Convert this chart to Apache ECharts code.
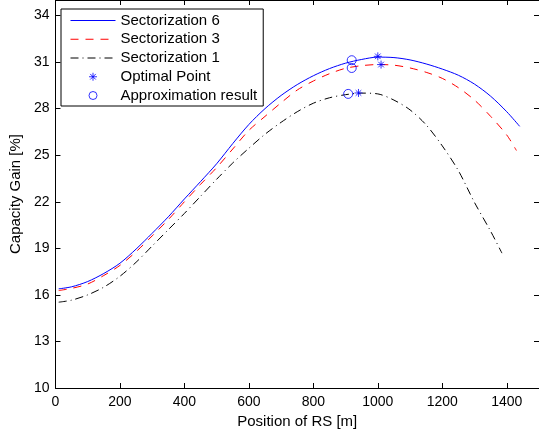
<!DOCTYPE html>
<html>
<head>
<meta charset="utf-8">
<script src="https://cdn.jsdelivr.net/npm/echarts@6/dist/echarts.min.js"></script>
<style>
html,body{margin:0;padding:0;background:#fff;}
#chart{width:539px;height:435px;}
</style>
</head>
<body>
<div id="chart"></div>
<script>
// Sectorization 6 (blue solid)
var s6X = [10,50,100,150,200,250,300,350,400,450,500,550,600,650,700,750,800,850,900,950,1000,1050,1100,1150,1200,1250,1300,1350,1400,1440];
var s6Y = [16.39,16.52,16.86,17.38,18.04,18.95,19.97,21.03,22.18,23.3,24.45,25.75,26.98,28.0,28.85,29.55,30.12,30.58,30.93,31.17,31.32,31.29,31.14,30.88,30.55,30.15,29.58,28.8,27.8,26.86];
// Sectorization 3 (red dashed)
var s3X = [10,50,100,150,200,250,300,350,400,450,500,550,600,650,700,750,800,850,900,950,1000,1050,1100,1150,1200,1250,1300,1350,1400,1430];
var s3Y = [16.28,16.42,16.7,17.25,17.9,18.78,19.8,20.85,22.0,23.12,24.2,25.4,26.6,27.5,28.38,29.2,29.78,30.25,30.6,30.77,30.84,30.8,30.62,30.34,29.95,29.35,28.55,27.5,26.3,25.3];
// Sectorization 1 (black dash-dot)
var s1X = [10,50,100,150,200,250,300,350,400,450,500,550,600,650,700,750,800,850,900,950,1000,1050,1100,1150,1200,1250,1300,1350,1385];
var s1Y = [15.53,15.66,16.0,16.5,17.2,18.1,19.15,20.2,21.25,22.35,23.45,24.5,25.45,26.35,27.12,27.8,28.35,28.7,28.9,29.0,28.95,28.55,27.92,26.95,25.6,24.0,21.95,20.1,18.69];
// Optimal points
var optX = [1000,1010,940];
var optY = [31.37,30.84,29.01];
// Approximation results
var apxX = [919,919,908];
var apxY = [31.12,30.62,28.95];
// Axis ticks
var xTicks = {min:0, max:1500, interval:200};
var yTicks = {min:10, max:35, interval:3};

function pairs(xs, ys){ return xs.map(function(x,i){ return [x, ys[i]]; }); }

var FONT = 'Liberation Sans, Arial, sans-serif';
var asterisk = 'path://M4,0L4,8M0,4L8,4M1.2,1.2L6.8,6.8M6.8,1.2L1.2,6.8';
var hiddenSym = {color:'rgba(0,0,0,0)', borderWidth:0, opacity:0};

var chart = echarts.init(document.getElementById('chart'), null, {renderer:'canvas'});
var axisCommon = {
  axisLine:{show:true, onZero:false, lineStyle:{color:'#000', width:1}},
  axisTick:{show:true, inside:true, length:5, lineStyle:{color:'#000', width:1}},
  splitLine:{show:false}
};
chart.setOption({
  animation:false,
  backgroundColor:'#fff',
  textStyle:{fontFamily:FONT},
  grid:{left:51, right:-4, top:0, bottom:47, containLabel:false},
  legend:{
    orient:'vertical', left:61, top:9,
    padding:[4,6,3,9],
    itemWidth:45, itemHeight:8, itemGap:3.75,
    borderColor:'#000', borderWidth:1, backgroundColor:'#fff',
    textStyle:{fontFamily:FONT, fontSize:15, color:'#000'},
    itemStyle:{borderWidth:1},
    lineStyle:{width:1},
    data:[
      {name:'Sectorization 6', itemStyle:hiddenSym},
      {name:'Sectorization 3', itemStyle:hiddenSym},
      {name:'Sectorization 1', itemStyle:hiddenSym},
      {name:'Optimal Point'},
      {name:'Approximation result'}
    ]
  },
  xAxis:[
    Object.assign({type:'value', position:'bottom', min:xTicks.min, max:xTicks.max, interval:xTicks.interval,
      name:'Position of RS [m]', nameLocation:'middle', nameGap:18,
      nameTextStyle:{fontFamily:FONT, fontSize:15, color:'#000'},
      axisLabel:{fontFamily:FONT, fontSize:14, color:'#000', margin:7, showMaxLabel:false,
        formatter:function(v){ return String(v); }}
    }, axisCommon),
    Object.assign({type:'value', position:'top', min:xTicks.min, max:xTicks.max, interval:xTicks.interval,
      axisLabel:{show:false}}, axisCommon)
  ],
  yAxis:[
    Object.assign({type:'value', position:'left', min:yTicks.min, max:yTicks.max, interval:yTicks.interval,
      name:'Capacity Gain [%]', nameLocation:'middle', nameGap:29, nameRotate:90,
      nameTextStyle:{fontFamily:FONT, fontSize:15, color:'#000'},
      axisLabel:{fontFamily:FONT, fontSize:14, color:'#000', margin:6, showMaxLabel:false,
        formatter:function(v){ return String(v); }}
    }, axisCommon),
    Object.assign({type:'value', position:'right', min:yTicks.min, max:yTicks.max, interval:yTicks.interval,
      axisLabel:{show:false}}, axisCommon)
  ],
  series:[
    {name:'Sectorization 6', type:'line', data:pairs(s6X,s6Y), symbol:'none', smooth:0.3,
      lineStyle:{color:'#0000ff', width:1, type:'solid'}, itemStyle:{color:'#0000ff'}},
    {name:'Sectorization 3', type:'line', data:pairs(s3X,s3Y), symbol:'none', smooth:0.3,
      lineStyle:{color:'#ff0000', width:1, type:[8,7]}, itemStyle:{color:'#ff0000'}},
    {name:'Sectorization 1', type:'line', data:pairs(s1X,s1Y), symbol:'none', smooth:0.3,
      lineStyle:{color:'#000000', width:1, type:[8,4,1,4]}, itemStyle:{color:'#000000'}},
    {name:'Optimal Point', type:'scatter', data:pairs(optX,optY), symbol:asterisk, symbolSize:8, z:5,
      itemStyle:{color:'rgba(0,0,0,0)', borderColor:'#0000ff', borderWidth:1}},
    {name:'Approximation result', type:'scatter', data:pairs(apxX,apxY), symbol:'circle', symbolSize:9, z:5,
      itemStyle:{color:'rgba(0,0,0,0)', borderColor:'#0000ff', borderWidth:1}}
  ]
});
</script>
</body>
</html>
